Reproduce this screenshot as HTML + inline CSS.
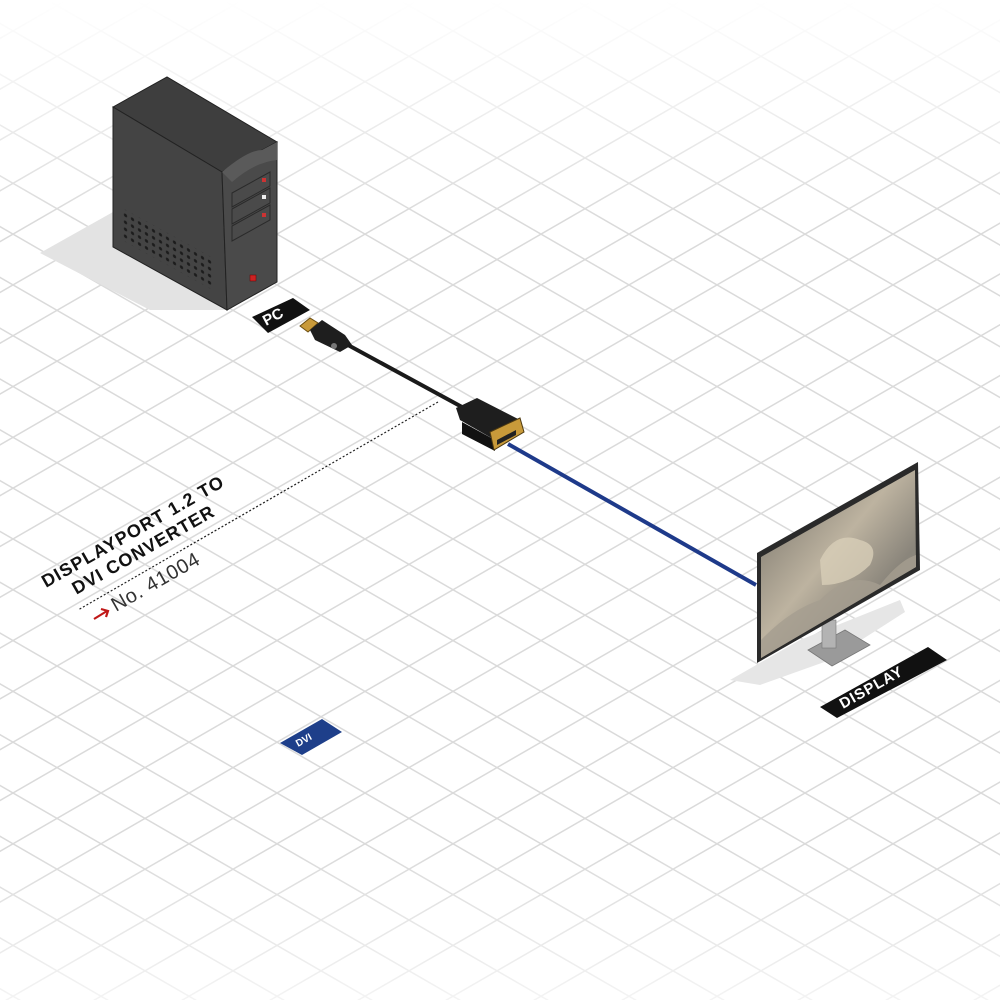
<!DOCTYPE html>
<html><head><meta charset="utf-8"><style>
html,body{margin:0;padding:0;background:#fff;}
svg{display:block;}
text{font-family:"Liberation Sans",sans-serif;}
</style></head><body>
<svg width="1000" height="1000" viewBox="0 0 1000 1000" xmlns="http://www.w3.org/2000/svg">
<defs>
<pattern id="g1" width="3000" height="44" patternUnits="userSpaceOnUse" patternTransform="rotate(30)">
<line x1="0" y1="20.2" x2="3000" y2="20.2" stroke="#dadada" stroke-width="1.5"/></pattern>
<pattern id="g2" width="3000" height="44" patternUnits="userSpaceOnUse" patternTransform="rotate(-30)">
<line x1="0" y1="33.2" x2="3000" y2="33.2" stroke="#dadada" stroke-width="1.5"/></pattern>
<linearGradient id="fade" x1="0" y1="0" x2="0" y2="1">
<stop offset="0" stop-color="#fff" stop-opacity="1"/><stop offset="0.1" stop-color="#fff" stop-opacity="0.6"/><stop offset="0.22" stop-color="#fff" stop-opacity="0"/>
<stop offset="0.85" stop-color="#fff" stop-opacity="0"/><stop offset="1" stop-color="#fff" stop-opacity="0.7"/></linearGradient>
<linearGradient id="scr" x1="0" y1="0" x2="1" y2="1">
<stop offset="0" stop-color="#6f6b63"/><stop offset="0.45" stop-color="#bdb3a0"/><stop offset="0.7" stop-color="#8a857b"/><stop offset="1" stop-color="#9a9386"/></linearGradient>
<pattern id="dots" width="7" height="7" patternUnits="userSpaceOnUse"><circle cx="3.5" cy="3.5" r="1.6" fill="#1c1c1c"/></pattern>
</defs>
<rect width="1000" height="1000" fill="#fff"/>
<rect width="1000" height="1000" fill="url(#g1)"/>
<rect width="1000" height="1000" fill="url(#g2)"/>
<rect width="1000" height="1000" fill="url(#fade)"/>

<!-- PC shadow -->
<polygon points="40,253 113,212 227,310 150,310" fill="#e3e3e3"/>
<!-- PC -->
<polygon points="113,107 167,77 277,142 222,172" fill="#3e3e3e" stroke="#222" stroke-width="1"/>
<polygon points="113,107 222,172 227,310 113,247" fill="#444" stroke="#222" stroke-width="1"/>
<polygon points="222,172 277,142 277,282 227,310" fill="#4a4a4a" stroke="#222" stroke-width="1"/>
<path d="M222,172 Q248,150 262,150 L277,142 L277,160 Q255,162 232,182 Z" fill="#5a5a5a"/>
<g transform="matrix(1,0.55,0,1,122,0)">
<rect x="0" y="208" width="92" height="32" fill="url(#dots)"/></g>
<g stroke="#2a2a2a" stroke-width="1" fill="none">
<polygon points="232,193 270,172 270,186 232,207"/>
<polygon points="232,209 270,188 270,203 232,224"/>
<polygon points="232,226 270,205 270,220 232,241"/>
</g>
<rect x="262" y="178" width="4" height="4" fill="#c33"/>
<rect x="262" y="195" width="4" height="4" fill="#eee"/>
<rect x="262" y="213" width="4" height="4" fill="#c33"/>
<rect x="250" y="275" width="6" height="6" fill="#c22" stroke="#600" stroke-width="0.5"/>

<!-- PC label -->
<polygon points="252,317 293,298 310,310 268,333" fill="#111"/>
<text x="0" y="0" transform="translate(266,326) rotate(-28)" font-size="15" font-weight="bold" fill="#fff">PC</text>

<!-- DP plug -->
<polygon points="300,326 310,318 318,323 308,332" fill="#c89a3a" stroke="#6b4e12" stroke-width="1"/>
<polygon points="310,330 322,320 345,335 352,345 340,352 315,340" fill="#1e1e1e"/>
<circle cx="334" cy="346" r="3" fill="#777"/>
<!-- black cable -->
<path d="M348,345 L462,407" stroke="#1a1a1a" stroke-width="4" fill="none"/>
<!-- DVI connector -->
<polygon points="456,408 477,398 520,420 520,432 495,440 460,420" fill="#1e1e1e"/>
<polygon points="462,422 495,440 495,451 462,434" fill="#111"/>
<polygon points="490,432 520,418 524,432 494,450" fill="#c89a3a" stroke="#4e3a10" stroke-width="1"/>
<polygon points="497,440 516,430 516,435 497,445" fill="#222"/>
<!-- blue cable -->
<path d="M508,444 L756,585" stroke="#1e3a8a" stroke-width="4" fill="none"/>

<!-- dotted leader -->
<line x1="438" y1="402" x2="78" y2="610" stroke="#222" stroke-width="1.2" stroke-dasharray="2,2"/>

<!-- Title -->
<g transform="translate(46,588) rotate(-29.7)">
<text x="0" y="0" font-size="18" font-weight="bold" fill="#111" textLength="206">DISPLAYPORT 1.2 TO</text>
<text x="23" y="21" font-size="18" font-weight="bold" fill="#111" textLength="160">DVI CONVERTER</text>
</g>
<g transform="translate(116,612) rotate(-29.7)">
<text x="0" y="0" font-size="20" fill="#333" textLength="98">No. 41004</text>
</g>
<path d="M94,619 L107,611 M101,609 L108,611 L106,617" stroke="#c01818" stroke-width="2.2" fill="none"/>

<!-- DVI badge -->
<polygon points="280,743 322,719 342,732 302,755" fill="#1e3f8a"/>
<text transform="translate(298,747) rotate(-29)" font-size="10" font-weight="bold" fill="#fff">DVI</text>

<!-- Display shadow -->
<polygon points="730,680 800,640 900,600 905,612 830,660 760,685" fill="#e6e6e6"/>
<!-- stand -->
<polygon points="808,650 845,630 870,645 832,666" fill="#9a9a9a" stroke="#777" stroke-width="0.8"/>
<rect x="822" y="620" width="14" height="28" fill="#b3b3b3" stroke="#777" stroke-width="0.6"/>
<!-- monitor -->
<polygon points="757,553 918,462 920,570 757,663" fill="#2a2a2a"/>
<polygon points="761,557 915,470 916,567 761,658" fill="url(#scr)"/>
<path d="M820,600 Q850,570 880,585 Q900,560 916,555 L916,567 L761,658 L761,640 Q790,610 820,600Z" fill="#a59e90" opacity="0.8"/>
<path d="M820,560 Q835,530 860,540 Q880,545 870,565 Q850,585 822,585Z" fill="#d8ceb8" opacity="0.8"/>

<!-- DISPLAY label -->
<polygon points="820,707 928,647 947,660 837,718" fill="#111"/>
<text transform="translate(843,709) rotate(-29.5)" font-size="15" font-weight="bold" fill="#fff" letter-spacing="1">DISPLAY</text>
</svg>
</body></html>
